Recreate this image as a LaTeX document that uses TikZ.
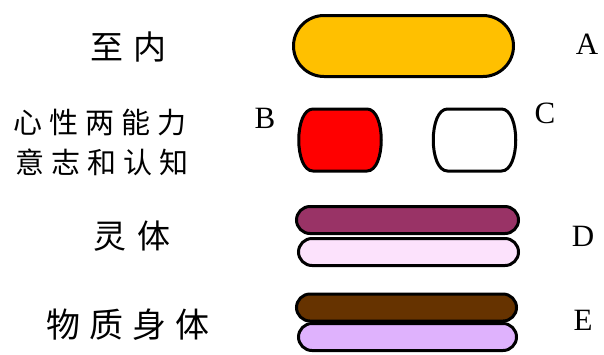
\documentclass[tikz,border=0pt]{standalone}
\usepackage{fontspec}
\setmainfont{Liberation Serif}
\newfontfamily\cjk{Noto Sans CJK SC}
\usepackage{tikz}
\usetikzlibrary{shapes.misc}
\definecolor{gold}{HTML}{FFC000}
\definecolor{plum}{HTML}{993366}
\definecolor{blush}{HTML}{FCE2FC}
\definecolor{umber}{HTML}{663300}
\definecolor{lilac}{HTML}{DFB2FD}
\newcommand{\gap}[1]{\hspace{#1pt}}

\begin{document}
\begin{tikzpicture}[x=1pt,y=-1pt,
	pill/.style={rounded rectangle,draw,line width=3pt,inner sep=0pt},
	blob/.style={draw,line width=3pt},
	letter/.style={font=\fontsize{31}{31}\selectfont},
	word/.style={font=\cjk\fontsize{#1}{#1}\selectfont,inner sep=0pt}]
	\useasboundingbox (0,0) rectangle (604,354);

	% labels on the left
	\node[word=33] (inner) at (128,47) {至\gap{10}内};
	\node[word=29] (mind) at (100,123) {心\gap{7}性\gap{7}两\gap{7}能\gap{7}力};
	\node[word=29] (will) at (102,162) {意\gap{7}志\gap{7}和\gap{7}认\gap{7}知};
	\node[word=33] (soul) at (132,236) {灵\gap{12}体};
	\node[word=34] (body) at (128,325) {物\gap{9}质\gap{9}身\gap{9}体};

	% shapes
	\node[pill,fill=gold,minimum width=220pt,minimum height=61pt] (a) at (403.5,46) {};
	\draw[blob,fill=red] (313,109) -- (367,109)
	.. controls (386,109) and (386,171) .. (367,171) -- (313,171)
	.. controls (294,171) and (294,109) .. cycle;
	\draw[blob,fill=white] (447.5,109) -- (501.5,109)
	.. controls (520.5,109) and (520.5,171) .. (501.5,171) -- (447.5,171)
	.. controls (428.5,171) and (428.5,109) .. cycle;
	\node[pill,fill=blush,minimum width=220pt,minimum height=27pt] (d2) at (408.5,252) {};
	\node[pill,fill=plum,minimum width=222pt,minimum height=27pt] (d1) at (407.5,220) {};
	\node[pill,fill=lilac,minimum width=218pt,minimum height=27pt] (e2) at (407.5,337) {};
	\node[pill,fill=umber,minimum width=220pt,minimum height=27pt] (e1) at (406.5,307.5) {};

	% letters
	\node[letter] (la) at (587,44) {A};
	\node[letter] (lb) at (265,118) {B};
	\node[letter] (lc) at (545,113) {C};
	\node[letter] (ld) at (583,236) {D};
	\node[letter] (le) at (583,320) {E};
\end{tikzpicture}
\end{document}
